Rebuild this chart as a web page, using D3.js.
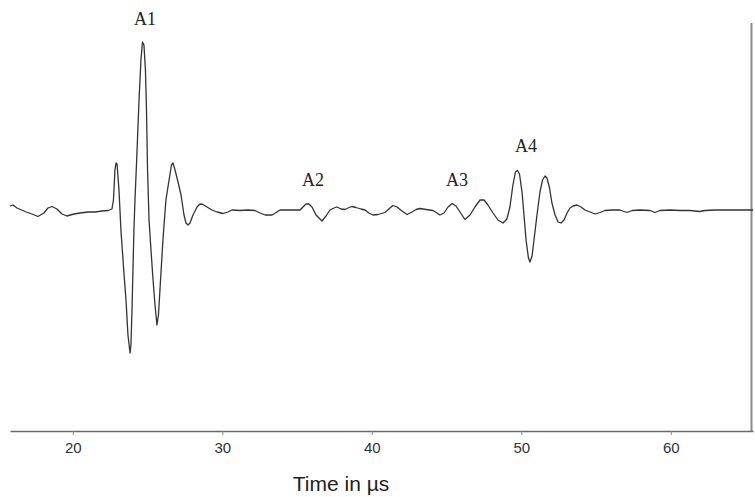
<!DOCTYPE html>
<html>
<head>
<meta charset="utf-8">
<script src="https://cdn.jsdelivr.net/npm/d3@7"></script>
<style>
  html, body { margin: 0; padding: 0; background: #fff; }
  svg { display: block; }
</style>
</head>
<body>
<svg id="chart" width="755" height="497"></svg>
<script>
// Time in µs
const times = [
  15.80, 16.00, 16.27, 16.80, 17.27, 17.67, 18.07, 18.34, 18.61, 18.94,
  19.28, 19.61, 20.08, 20.48, 21.02, 21.49, 21.95, 22.36, 22.62, 22.72,
  22.82, 22.89, 22.96, 23.09, 23.22, 23.43, 23.56, 23.69, 23.83, 23.89,
  23.96, 24.09, 24.16, 24.30, 24.43, 24.56, 24.66, 24.76, 24.86, 24.93,
  25.00, 25.10, 25.23, 25.37, 25.50, 25.63, 25.73, 25.83, 26.03, 26.23,
  26.44, 26.60, 26.70, 26.84, 27.04, 27.24, 27.44, 27.57, 27.71, 27.84,
  28.04, 28.31, 28.51, 28.71, 28.98, 29.31, 29.65, 30.05, 30.38, 30.65,
  31.18, 31.72, 32.19, 32.52, 32.86, 33.33, 33.66, 33.86, 34.53, 35.20,
  35.40, 35.60, 35.80, 36.00, 36.27, 36.67, 36.94, 37.20, 37.47, 37.67,
  37.94, 38.21, 38.48, 38.68, 38.94, 39.28, 39.55, 39.81, 40.08, 40.42,
  40.88, 41.22, 41.42, 41.69, 42.02, 42.36, 42.69, 42.96, 43.23, 43.63,
  44.09, 44.36, 44.56, 44.83, 45.10, 45.37, 45.63, 45.90, 46.23, 46.57,
  46.90, 47.24, 47.51, 47.77, 48.11, 48.44, 48.78, 49.04, 49.24, 49.44,
  49.61, 49.75, 49.88, 50.05, 50.18, 50.32, 50.48, 50.58, 50.72, 50.85,
  51.05, 51.25, 51.42, 51.59, 51.72, 51.89, 52.05, 52.26, 52.46, 52.66,
  52.86, 53.06, 53.26, 53.46, 53.73, 54.00, 54.26, 54.60, 54.93, 55.27,
  55.60, 56.07, 56.60, 57.07, 57.41, 57.94, 58.61, 58.94, 59.28, 59.95,
  60.62, 61.29, 61.95, 62.29, 62.96, 63.96, 64.96, 65.50
];
// Signal amplitude (arbitrary units)
const amplitudes = [
  0.04, 0.05, 0.02, -0.015, -0.04, -0.065, -0.03, 0.02, 0.035, 0.01,
  -0.04, -0.06, -0.04, -0.03, -0.02, -0.02, -0.01, -0.005, 0.01, 0.10,
  0.40, 0.47, 0.46, 0.20, -0.20, -0.65, -0.90, -1.25, -1.43, -1.35,
  -1.00, -0.20, 0.10, 0.60, 1.10, 1.50, 1.68, 1.65, 1.40, 1.00,
  0.40, -0.10, -0.40, -0.70, -0.95, -1.15, -1.05, -0.80, -0.30, 0.10,
  0.30, 0.45, 0.47, 0.40, 0.28, 0.15, -0.05, -0.13, -0.15, -0.13,
  -0.05, 0.03, 0.06, 0.055, 0.03, 0.00, -0.02, -0.035, -0.02, 0.00,
  -0.005, 0.00, -0.005, -0.03, -0.05, -0.05, -0.02, 0.00, 0.00, 0.00,
  0.03, 0.06, 0.06, 0.03, -0.05, -0.11, -0.06, 0.00, 0.02, 0.03,
  0.01, 0.005, 0.025, 0.035, 0.025, 0.01, 0.00, -0.03, -0.05, -0.045,
  -0.025, 0.02, 0.045, 0.03, -0.01, -0.045, -0.02, 0.005, 0.015, 0.005,
  -0.005, -0.03, -0.05, -0.03, 0.03, 0.065, 0.04, -0.02, -0.095, -0.05,
  0.03, 0.10, 0.10, 0.05, -0.03, -0.10, -0.13, -0.09, 0.03, 0.25,
  0.38, 0.395, 0.36, 0.18, -0.05, -0.30, -0.48, -0.52, -0.46, -0.30,
  -0.05, 0.18, 0.30, 0.34, 0.32, 0.22, 0.07, -0.05, -0.12, -0.13,
  -0.10, -0.03, 0.02, 0.04, 0.05, 0.03, 0.00, -0.02, -0.04, -0.025,
  -0.005, 0.00, 0.00, -0.025, -0.005, 0.00, -0.005, -0.025, -0.005, 0.00,
  -0.005, -0.005, -0.015, -0.005, 0.00, 0.00, 0.00, 0.00
];
const tickValues = [20, 30, 40, 50, 60];
const xTitle = "Time in µs";
const peakLabels = ["A1", "A2", "A3", "A4"];
const peakLabelTimes = [24.83, 36.07, 45.70, 50.32];
const peakLabelAmps = [1.85, 0.24, 0.24, 0.58];

const svg = d3.select("#chart");
const x = d3.scaleLinear().domain([15.8, 65.5]).range([10, 753]);
const y = d3.scaleLinear().domain([-2, 2]).range([410, 10]);
const axisY = 431;

const data = times.map((t, i) => ({ t, a: amplitudes[i] }));

// right border line
svg.append("line")
  .attr("x1", 751.5).attr("x2", 751.5)
  .attr("y1", 23).attr("y2", axisY)
  .attr("stroke", "#8a8a8a").attr("stroke-width", 2);

// x axis
const gx = svg.append("g")
  .attr("transform", `translate(0,${axisY})`)
  .call(d3.axisBottom(x).tickValues(tickValues).tickSize(4).tickSizeOuter(0).tickPadding(7));
gx.select(".domain").attr("stroke", "#6a6a6a").attr("stroke-width", 1.6);
gx.selectAll(".tick line").attr("stroke", "#888");
gx.selectAll(".tick text")
  .attr("font-family", "'Liberation Sans', Arial, sans-serif")
  .attr("font-size", 15).attr("fill", "#333");

svg.append("text")
  .attr("x", 341).attr("y", 491)
  .attr("text-anchor", "middle")
  .attr("font-family", "'Liberation Sans', Arial, sans-serif")
  .attr("font-size", 21).attr("fill", "#222")
  .text(xTitle);

// waveform
svg.append("path")
  .datum(data)
  .attr("fill", "none")
  .attr("stroke", "#333")
  .attr("stroke-width", 1.3)
  .attr("stroke-linejoin", "round")
  .attr("d", d3.line().x(d => x(d.t)).y(d => y(d.a)));

// peak labels
svg.selectAll("text.peak")
  .data(peakLabels)
  .join("text")
  .attr("class", "peak")
  .attr("x", (d, i) => x(peakLabelTimes[i]))
  .attr("y", (d, i) => y(peakLabelAmps[i]))
  .attr("text-anchor", "middle")
  .attr("font-family", "'Liberation Serif', 'Times New Roman', serif")
  .attr("font-size", 18).attr("fill", "#222")
  .text(d => d);
</script>
</body>
</html>
